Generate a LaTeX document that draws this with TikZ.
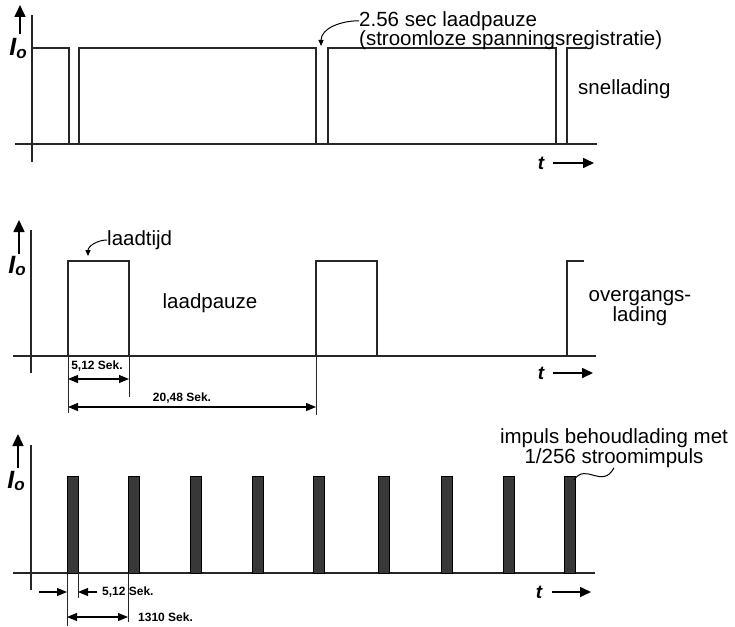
\documentclass[tikz,border=0pt]{standalone}
\usepackage{fontspec}
\setmainfont{Liberation Sans}
\usetikzlibrary{arrows.meta}

\begin{document}
\begin{tikzpicture}[
    x=1pt, y=-1pt,
    lbl/.style={font=\fontsize{20.5}{19}\selectfont, inner sep=0pt},
    dimlbl/.style={font=\bfseries\fontsize{12}{12}\selectfont, inner sep=0pt},
    iolbl/.style={font=\bfseries\itshape\fontsize{25}{25}\selectfont, inner sep=0pt, anchor=base},
    tlbl/.style={font=\bfseries\itshape\fontsize{19}{19}\selectfont, inner sep=0pt, anchor=base},
    wave/.style={line width=1.2pt, black!85},
    axisline/.style={line width=1.1pt, black!85},
    dimline/.style={line width=0.9pt, black!85},
    bar/.style={draw=black, line width=0.9pt, fill=black!78},
    dimarr/.style={{Triangle[length=10pt,width=8pt]}-{Triangle[length=10pt,width=8pt]}, line width=1.1pt},
    inarr/.style={-{Triangle[length=10pt,width=8pt]}, line width=1.1pt},
    ptr/.style={-{Triangle[length=6pt,width=5pt]}, line width=1pt},
    tarr/.style={-{Triangle[length=11pt,width=10pt]}, line width=1.6pt},
    ioarr/.style={-{Triangle[length=12pt,width=11pt]}, line width=1.6pt},
  ]
    \useasboundingbox (0,0) rectangle (735,626);

    % --- snellading
    \draw[axisline] (32,15) -- (32,162);
    \draw[axisline] (15,144) -- (597,144);
    \draw[wave] (32,48) -- (69,48) -- (69,144);
    \draw[wave] (79,144) -- (79,48) -- (316,48) -- (316,144);
    \draw[wave] (328,144) -- (328,48) -- (556,48) -- (556,144);
    \draw[wave] (567,144) -- (567,48) -- (586,48);
    \coordinate (io1a) at (20,34);
    \coordinate (io1b) at (20,5);
    \draw[ioarr] (io1a) -- (io1b);
    \node[iolbl] (io1) at (18,56) {I\raisebox{-2pt}{\fontsize{17}{17}\selectfont o}};
    \node[lbl, anchor=north west] (pz) at (359,11) {2.56 sec laadpauze};
    \node[lbl, anchor=north west] (pzb) at (pz.south west) {(stroomloze spanningsregistratie)};
    \coordinate (gap1) at (321,46);
    \draw[ptr] (pz.west) to[out=180, in=90] (gap1);
    \node[lbl, anchor=west] (snel) at (578,89) {snellading};
    \node[tlbl] (t1) at (541,169) {t};
    \coordinate (t1a) at (553,163);
    \coordinate (t1b) at (594,163);
    \draw[tarr] (t1a) -- (t1b);

    % --- overgangslading
    \draw[axisline] (31,230) -- (31,373);
    \draw[axisline] (13,356) -- (596,356);
    \draw[wave] (68,356) -- (68,261) -- (129,261) -- (129,356);
    \draw[wave] (316,356) -- (316,261) -- (377,261) -- (377,356);
    \draw[wave] (567,356) -- (567,261) -- (584,261);
    \coordinate (io2a) at (19,254);
    \coordinate (io2b) at (19,220);
    \draw[ioarr] (io2a) -- (io2b);
    \node[iolbl] (io2) at (17,273) {I\raisebox{-2pt}{\fontsize{17}{17}\selectfont o}};
    \node[lbl, anchor=west] (tijd) at (107,240) {laadtijd};
    \coordinate (top2) at (88,256);
    \draw[ptr] (tijd.west) to[out=180, in=90] (top2);
    \node[lbl] (pauze) at (210,303) {laadpauze};
    \node[lbl, align=center] (overg) at (640,308) {overgangs-\\lading};
    \draw[dimline] (68,356) -- (68,413);
    \draw[dimline] (129,356) -- (129,397);
    \draw[dimline] (316,356) -- (316,415);
    \coordinate (d2a) at (68,379);
    \coordinate (d2b) at (129,379);
    \coordinate (d2c) at (68,407);
    \coordinate (d2d) at (316,407);
    \draw[dimarr] (d2a) -- (d2b);
    \draw[dimarr] (d2c) -- (d2d);
    \node[dimlbl] (dl2a) at (97,366) {5,12 Sek.};
    \node[dimlbl] (dl2b) at (182,398) {20,48 Sek.};
    \node[tlbl] (t2) at (541,379) {t};
    \coordinate (t2a) at (553,373);
    \coordinate (t2b) at (593,373);
    \draw[tarr] (t2a) -- (t2b);

    % --- behoudlading
    \draw[axisline] (31,445) -- (31,590);
    \draw[axisline] (13,573) -- (595,573);
    \foreach \bx in {67,128,190,252,313,378,441,503,564}
      \draw[bar] (\bx,573) rectangle ++(11,-97);
    \coordinate (io3a) at (18,468);
    \coordinate (io3b) at (18,434);
    \draw[ioarr] (io3a) -- (io3b);
    \node[iolbl] (io3) at (16,488) {I\raisebox{-2pt}{\fontsize{17}{17}\selectfont o}};
    \node[lbl, align=center] (imp) at (614,448) {impuls behoudlading met\\1/256 stroomimpuls};
    \coordinate (bar9) at (574,480);
    \draw[line width=1pt] (bar9) .. controls +(12,-18) and +(-12,22) .. (imp.south);
    \draw[dimline] (67,573) -- (67,626);
    \draw[dimline] (78,573) -- (78,598);
    \draw[dimline] (128,573) -- (128,622);
    \coordinate (d3a) at (39,592);
    \coordinate (d3b) at (67,592);
    \coordinate (d3c) at (97,592);
    \coordinate (d3d) at (78,592);
    \coordinate (d3e) at (67,617);
    \coordinate (d3f) at (128,617);
    \draw[inarr] (d3a) -- (d3b);
    \draw[inarr] (d3c) -- (d3d);
    \draw[dimarr] (d3e) -- (d3f);
    \node[dimlbl, anchor=west] (dl3a) at (102,592) {5,12 Sek.};
    \node[dimlbl, anchor=west] (dl3b) at (138,617) {1310 Sek.};
    \node[tlbl] (t3) at (539,598) {t};
    \coordinate (t3a) at (552,592);
    \coordinate (t3b) at (591,592);
    \draw[tarr] (t3a) -- (t3b);
  \end{tikzpicture}
\end{document}
